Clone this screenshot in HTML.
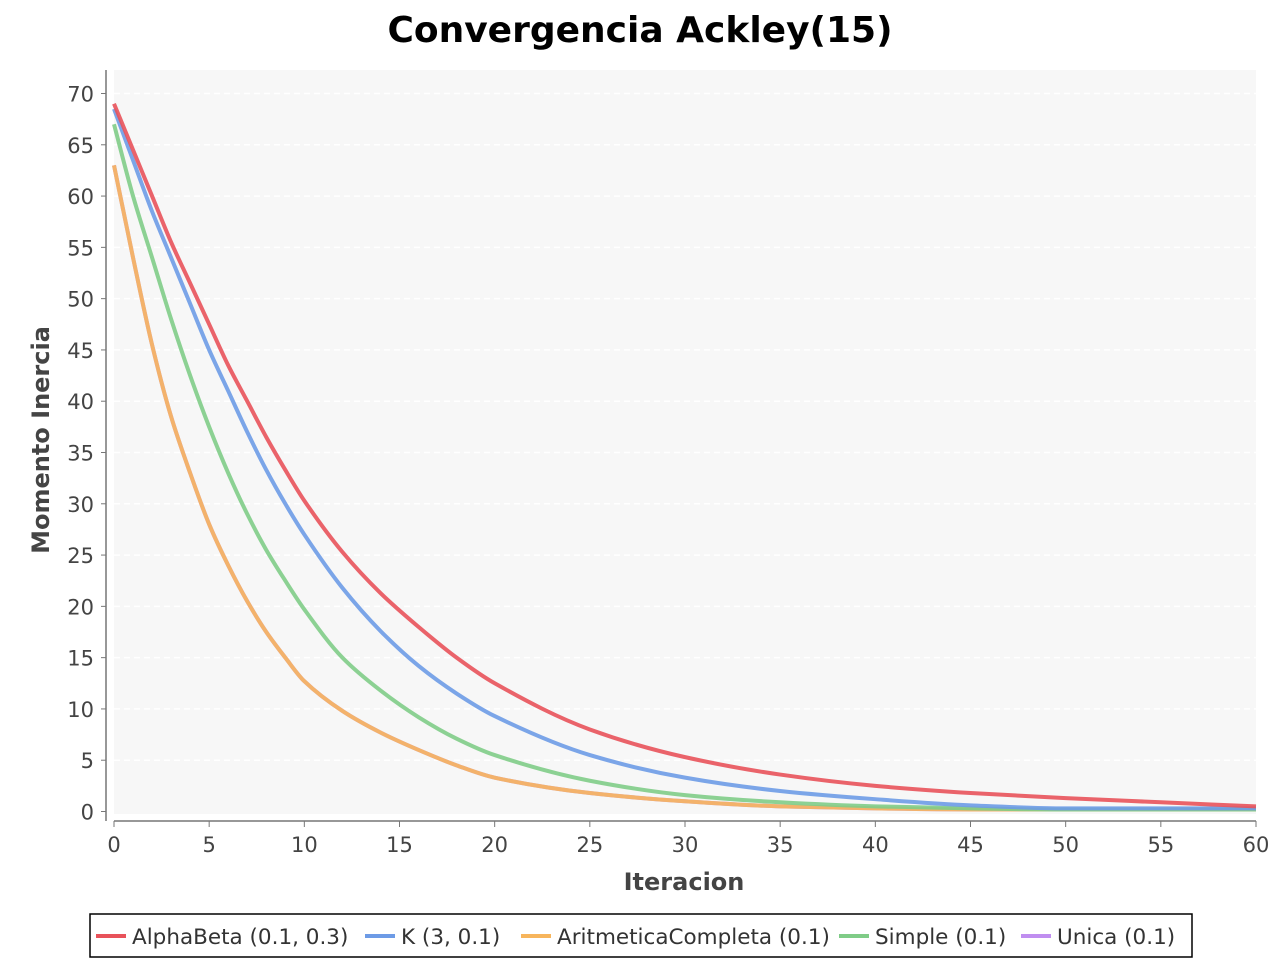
<!DOCTYPE html>
<html><head><meta charset="utf-8"><style>
body{margin:0;background:#fff;font-family:"DejaVu Sans","Liberation Sans",sans-serif}
</style></head><body>
<svg width="1280" height="960" xmlns="http://www.w3.org/2000/svg">
<text x="640" y="42" text-anchor="middle" font-size="36" font-weight="bold" fill="#000">Convergencia Ackley(15)</text>
<rect x="114" y="70" width="1142" height="744" fill="#f7f7f7"/>
<g id="grid"></g>
<g id="series"></g>
<line x1="106" y1="70" x2="106" y2="821" stroke="#777" stroke-width="1.5"/>
<line x1="114" y1="821" x2="1256" y2="821" stroke="#777" stroke-width="1.5"/>
<g id="axes" font-size="21" fill="#444"></g>
<text x="684" y="890" text-anchor="middle" font-size="24" font-weight="bold" fill="#444">Iteracion</text>
<text transform="translate(49,440) rotate(-90)" text-anchor="middle" font-size="24" font-weight="bold" fill="#444">Momento Inercia</text>
<rect x="90" y="914" width="1102" height="43" fill="#fff" stroke="#000" stroke-width="1.5"/>
<g id="legend" font-size="21.5" fill="#333"></g>
</svg>
<script>
const iters=[0,1,2,3,4,5,6,7,8,9,10,12,14,16,18,20,25,30,35,40,45,50,55,60];
const alphaBeta=[69,64.5,60,55.5,51.5,47.5,43.5,40,36.5,33.3,30.3,25.3,21.3,18,15,12.5,8,5.3,3.6,2.5,1.8,1.3,0.9,0.5];
const kSeries=[68.5,63.5,58.5,54,49.5,45,41,37,33.3,30,27,21.8,17.6,14.2,11.5,9.3,5.5,3.3,2,1.2,0.6,0.3,0.3,0.3];
const aritmetica=[63,54,45.5,38.5,33,28,24,20.5,17.5,15,12.7,9.8,7.7,6,4.5,3.3,1.8,1,0.5,0.3,0.2,0.2,0.2,0.2];
const simple=[67,60,54,48,42.5,37.5,33,29,25.5,22.5,19.7,15,11.8,9.2,7.1,5.5,3,1.6,0.9,0.5,0.3,0.2,0.2,0.2];
const unica=[63,54,45.5,38.5,33,28,24,20.5,17.5,15,12.7,9.8,7.7,6,4.5,3.3,1.8,1,0.5,0.3,0.2,0.2,0.2,0.2];
const xTicks=[0,5,10,15,20,25,30,35,40,45,50,55,60];
const yTicks=[0,5,10,15,20,25,30,35,40,45,50,55,60,65,70];
const seriesNames=["AlphaBeta (0.1, 0.3)","K (3, 0.1)","AritmeticaCompleta (0.1)","Simple (0.1)","Unica (0.1)"];
const colors=["#e8525a","#6d9be6","#f7b55c","#7fcc87","#c08ef0"];
const NS="http://www.w3.org/2000/svg";
const X=v=>114+v/60*1142;
const Y=v=>811.5-v*(718/70);
function mk(t,a,p){const e=document.createElementNS(NS,t);for(const k in a)e.setAttribute(k,a[k]);p.appendChild(e);return e;}
const grid=document.getElementById('grid'),axes=document.getElementById('axes');
yTicks.forEach(v=>{
 if(v>0){const g=mk('line',{x1:114,x2:1256,y1:Y(v),y2:Y(v),stroke:'#fff','stroke-width':1.5,'stroke-dasharray':'6,4'},grid);
 
 }
 const tk=mk('line',{x1:101,x2:106,y1:Y(v),y2:Y(v),stroke:'#777'},axes);
 
 
 const t=mk('text',{x:94,y:Y(v)+8,'text-anchor':'end'},axes);t.textContent=v;
 
 
});
xTicks.forEach(v=>{
 const tk=mk('line',{x1:X(v),x2:X(v),y1:821,y2:827,stroke:'#777'},axes);
 
 
 const t=mk('text',{x:X(v),y:852,'text-anchor':'middle'},axes);t.textContent=v;
 
 
});
function path(vals){
 const p=iters.map((x,i)=>[X(x),Y(vals[i])]);
 const n=p.length,s=[],m=[];
 for(let i=0;i<n-1;i++)s.push((p[i+1][1]-p[i][1])/(p[i+1][0]-p[i][0]));
 for(let i=0;i<n;i++){
  if(i===0)m.push(s[0]);else if(i===n-1)m.push(s[n-2]);
  else{const a=s[i-1],b=s[i];m.push(a*b<=0?0:2/(1/a+1/b));}
 }
 let d='M'+p[0][0]+','+p[0][1];
 for(let i=0;i<n-1;i++){
  const h=(p[i+1][0]-p[i][0])/3;
  d+=' C'+(p[i][0]+h)+','+(p[i][1]+m[i]*h)+' '+(p[i+1][0]-h)+','+(p[i+1][1]-m[i+1]*h)+' '+p[i+1][0]+','+p[i+1][1];
 }
 return d;
}
const data=[alphaBeta,kSeries,aritmetica,simple,unica];
const sg=document.getElementById('series');
[4,2,3,1,0].forEach(i=>{
 const e=mk('path',{d:path(data[i]),fill:'none',stroke:colors[i],'stroke-width':4,'stroke-opacity':0.9},sg);
 
 
});
const lg=document.getElementById('legend');
const lx=[96,365,521,839,1021];
seriesNames.forEach((n,i)=>{
 const l=mk('line',{x1:lx[i],x2:lx[i]+30,y1:936,y2:936,stroke:colors[i],'stroke-width':4},lg);
 
 
 const t=mk('text',{x:lx[i]+36,y:944},lg);t.textContent=n;
 
 
});
</script>
</body></html>
